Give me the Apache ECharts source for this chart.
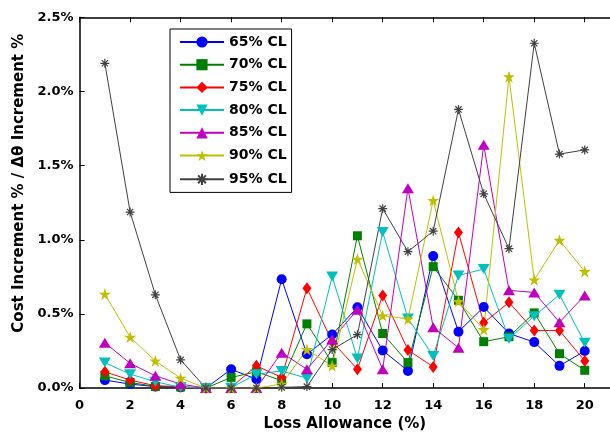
<!DOCTYPE html>
<html>
<head>
<meta charset="utf-8">
<script src="https://cdn.jsdelivr.net/npm/echarts@6/dist/echarts.min.js"></script>
<style>
  html, body { margin: 0; padding: 0; background: #fff; }
  #chart { width: 610px; height: 437px; }
</style>
</head>
<body>
<div id="chart"></div>
<script>
// Loss allowance (%) on the x axis
const lossAllowance = [1, 2, 3, 4, 5, 6, 7, 8, 9, 10, 11, 12, 13, 14, 15, 16, 17, 18, 19, 20];

// Cost increment % / Δθ increment % for each confidence level
const cl65 = [0.054, 0.027, 0.010, 0.005, 0, 0.127, 0.060, 0.734, 0.228, 0.361, 0.545, 0.254, 0.116, 0.890, 0.380, 0.547, 0.368, 0.310, 0.150, 0.250];
const cl70 = [0.083, 0.038, 0.011, 0.008, 0, 0.072, 0.110, 0.050, 0.433, 0.172, 1.027, 0.368, 0.172, 0.819, 0.592, 0.313, 0.346, 0.507, 0.232, 0.120];
const cl75 = [0.110, 0.054, 0.016, 0.010, 0, 0.005, 0.150, 0.072, 0.674, 0.313, 0.127, 0.625, 0.257, 0.143, 1.049, 0.440, 0.578, 0.388, 0.388, 0.183];
const cl80 = [0.172, 0.094, 0.043, 0.005, 0, 0.003, 0.094, 0.116, 0.067, 0.752, 0.200, 1.053, 0.470, 0.217, 0.759, 0.803, 0.333, 0.485, 0.630, 0.306];
const cl85 = [0.306, 0.167, 0.083, 0.027, 0, 0, 0, 0.239, 0.127, 0.328, 0.529, 0.127, 1.348, 0.410, 0.272, 1.640, 0.659, 0.645, 0.444, 0.625];
const cl90 = [0.634, 0.344, 0.183, 0.067, 0, 0, 0, 0.027, 0.260, 0.150, 0.870, 0.489, 0.466, 1.265, 0.585, 0.395, 2.100, 0.730, 0.997, 0.786];
const cl95 = [2.190, 1.187, 0.629, 0.190, 0, 0, 0, 0.005, 0.010, 0.260, 0.360, 1.210, 0.920, 1.058, 1.879, 1.310, 0.940, 2.325, 1.578, 1.606];

const seriesNames = ['65% CL', '70% CL', '75% CL', '80% CL', '85% CL', '90% CL', '95% CL'];
const yTicks = [0, 0.5, 1.0, 1.5, 2.0, 2.5];

const STAR = 'path://M50,0L61.2,34.6L97.6,34.5L68.1,55.9L79.4,90.5L50,69L20.6,90.5L31.9,55.9L2.4,34.5L38.8,34.6Z';
const ASTERISK = 'path://M0,5L10,5M5,0L5,10M1.5,1.5L8.5,8.5M1.5,8.5L8.5,1.5';

const FONT = 'DejaVu Sans';

function makeSeries(name, values, color, symbol, size, extra) {
  return Object.assign({
    name: name,
    type: 'line',
    data: values.map((v, i) => [lossAllowance[i], v]),
    symbol: symbol,
    symbolSize: size,
    showAllSymbol: true,
    lineStyle: { color: color, width: 1 },
    itemStyle: { color: color },
    emphasis: { disabled: true },
    animation: false
  }, extra || {});
}

const series = [
  makeSeries(seriesNames[0], cl65, '#0000ff', 'circle', 10),
  makeSeries(seriesNames[1], cl70, '#008000', 'rect', 9),
  makeSeries(seriesNames[2], cl75, '#ff0000', 'diamond', [9, 12]),
  makeSeries(seriesNames[3], cl80, '#00bfbf', 'triangle', [12, 10], { symbolRotate: 180 }),
  makeSeries(seriesNames[4], cl85, '#bf00bf', 'triangle', [12, 10]),
  makeSeries(seriesNames[5], cl90, '#bfbf00', STAR, 12),
  makeSeries(seriesNames[6], cl95, '#404040', ASTERISK, 9, {
    itemStyle: { color: 'none', borderColor: '#404040', borderWidth: 1.2 }
  })
];

const chart = echarts.init(document.getElementById('chart'), null, { renderer: 'canvas' });
chart.setOption({
  animation: false,
  backgroundColor: '#fff',
  grid: { left: 79.6, top: 17.3, width: 536.6, height: 373.4, containLabel: false },
  legend: {
    data: seriesNames,
    orient: 'vertical',
    left: 170,
    top: 29,
    itemWidth: 44,
    itemHeight: 14,
    itemGap: 8.7,
    padding: [6, 5, 5, 9],
    borderColor: '#000',
    borderWidth: 1,
    backgroundColor: '#fff',
    textStyle: { fontFamily: FONT, fontWeight: 'bold', fontSize: 14, color: '#000' },
    selectedMode: false
  },
  xAxis: [{
    type: 'value',
    min: 0, max: 21, interval: 2,
    name: 'Loss Allowance (%)',
    nameLocation: 'middle',
    nameGap: 24,
    nameTextStyle: { fontFamily: FONT, fontWeight: 'bold', fontSize: 15, color: '#000' },
    axisLine: { show: true, onZero: false, lineStyle: { color: '#000', width: 1.5 } },
    axisTick: { show: true, inside: true, length: 5, lineStyle: { color: '#000' } },
    axisLabel: { fontFamily: FONT, fontWeight: 'bold', fontSize: 13, color: '#000', margin: 11, showMaxLabel: false },
    splitLine: { show: false }
  }, {
    type: 'value',
    position: 'top',
    min: 0, max: 21, interval: 2,
    axisLine: { show: true, onZero: false, lineStyle: { color: '#000', width: 1.5 } },
    axisTick: { show: true, inside: true, length: 5, lineStyle: { color: '#000' } },
    axisLabel: { show: false },
    splitLine: { show: false }
  }],
  yAxis: {
    type: 'value',
    min: 0, max: 2.5, interval: 0.5,
    name: 'Cost Increment % / Δθ Increment %',
    nameLocation: 'middle',
    nameGap: 47,
    nameTextStyle: { fontFamily: FONT, fontWeight: 'bold', fontSize: 15, color: '#000', padding: [0, 0, 0, 39] },
    axisLine: { show: true, onZero: false, lineStyle: { color: '#000', width: 1.5 } },
    axisTick: { show: true, inside: true, length: 5, lineStyle: { color: '#000' } },
    axisLabel: {
      fontFamily: FONT, fontWeight: 'bold', fontSize: 13, color: '#000', margin: 6,
      formatter: v => v.toFixed(1) + '%'
    },
    splitLine: { show: false }
  },
  series: series
});
</script>
</body>
</html>
